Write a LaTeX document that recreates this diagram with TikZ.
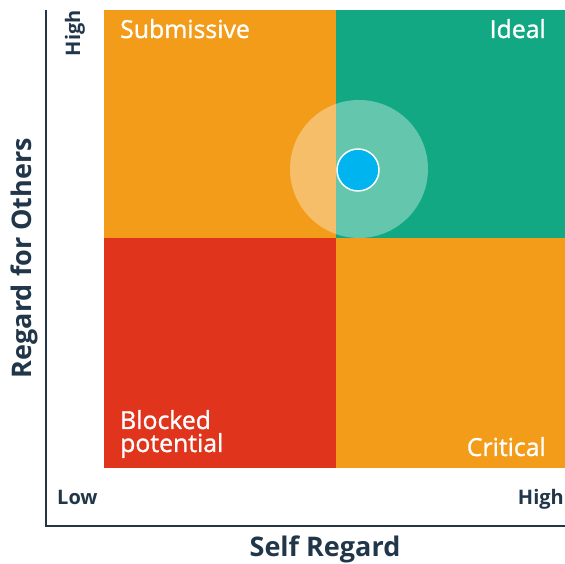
\documentclass[tikz,border=0pt]{standalone}
\usepackage{fontspec}
\setmainfont{Open Sans}
\newfontfamily\quadfont{Open Sans}[FakeBold=1.2]
\usepackage{tikz}

\definecolor{quadorange}{HTML}{F39C1A}
\definecolor{quadgreen}{HTML}{13A884}
\definecolor{quadred}{HTML}{E0341C}
\definecolor{dotblue}{HTML}{00B4EF}
\definecolor{axisnavy}{HTML}{22364A}

\begin{document}
\begin{tikzpicture}[
	x = 1pt, y = 1pt,
	quad/.style = {
		shape=rectangle, anchor=north west,
		inner sep=0pt, minimum width=#1},
	quadlabel/.style = {
		text=white, inner sep=0pt, align=left,
		font=\quadfont\fontsize{24.8}{23}\selectfont},
	axislabel/.style = {
		text=axisnavy, inner sep=0pt,
		font=\bfseries\fontsize{20}{20}\selectfont},
	axistitle/.style = {
		text=axisnavy, inner sep=0pt,
		font=\bfseries\fontsize{27}{27}\selectfont},
	axisline/.style = {draw=axisnavy, line width=2pt}]

	\useasboundingbox (0,0) rectangle (565,564);

	% quadrants
	\node[quad=232pt, minimum height=228pt, fill=quadorange] (submissive) at (104,554) {};
	\node[quad=229pt, minimum height=228pt, fill=quadgreen] (ideal) at (336,554) {};
	\node[quad=232pt, minimum height=230pt, fill=quadred] (blocked) at (104,326) {};
	\node[quad=229pt, minimum height=230pt, fill=quadorange] (critical) at (336,326) {};

	\node[quadlabel, anchor=base west] (submissivetext) at (120,526) {Submissive};
	\node[quadlabel, anchor=base east] (idealtext) at (546,526) {Ideal};
	\node[quadlabel, anchor=base west] (blockedtext) at (120,112) {Blocked\\potential};
	\node[quadlabel, anchor=base east] (criticaltext) at (546,108) {Critical};

	% position marker
	\node[circle, minimum size=138pt, inner sep=0pt, fill=white, fill opacity=0.35] (halo) at (359,395) {};
	\node[circle, minimum size=42pt, inner sep=0pt, fill=dotblue, draw=white, line width=1.5pt] (dot) at (358,394) {};

	% axes
	\coordinate (ytop) at (46,554);
	\coordinate (xend) at (565,38);
	\draw[axisline] (ytop) |- (xend);

	\node[axislabel, anchor=base west] (xlow) at (57,59) {Low};
	\node[axislabel, anchor=base east] (xhigh) at (564,59) {High};
	\node[axislabel, anchor=base east, rotate=90] (yhigh) at (80,554) {High};

	\node[axistitle, anchor=base] (xtitle) at (325,7) {Self Regard};
	\node[axistitle, anchor=base, rotate=90] (ytitle) at (31,306) {Regard for Others};
\end{tikzpicture}
\end{document}
